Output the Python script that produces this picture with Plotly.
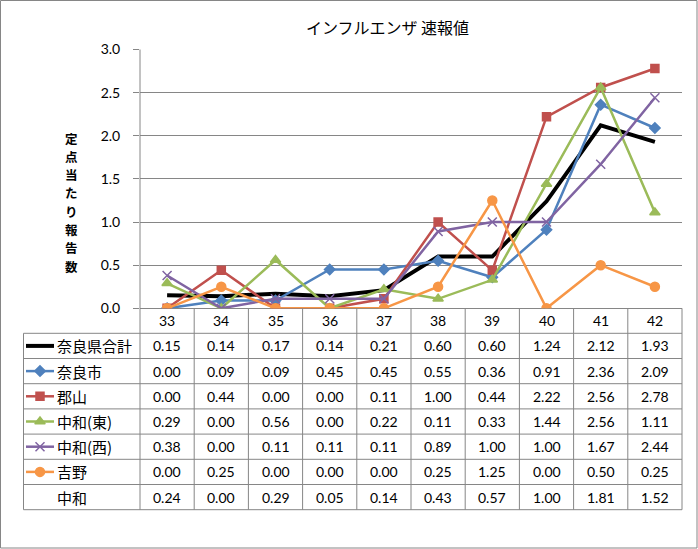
import plotly.graph_objects as go

# 週
weeks = ['33', '34', '35', '36', '37', '38', '39', '40', '41', '42']

# 系列名と値
series_names = ['奈良県合計', '奈良市', '郡山', '中和(東)', '中和(西)', '吉野', '中和']
total = [0.15, 0.14, 0.17, 0.14, 0.21, 0.60, 0.60, 1.24, 2.12, 1.93]
nara = [0.00, 0.09, 0.09, 0.45, 0.45, 0.55, 0.36, 0.91, 2.36, 2.09]
koriyama = [0.00, 0.44, 0.00, 0.00, 0.11, 1.00, 0.44, 2.22, 2.56, 2.78]
chuwa_east = [0.29, 0.00, 0.56, 0.00, 0.22, 0.11, 0.33, 1.44, 2.56, 1.11]
chuwa_west = [0.38, 0.00, 0.11, 0.11, 0.11, 0.89, 1.00, 1.00, 1.67, 2.44]
yoshino = [0.00, 0.25, 0.00, 0.00, 0.00, 0.25, 1.25, 0.00, 0.50, 0.25]
chuwa = [0.24, 0.00, 0.29, 0.05, 0.14, 0.43, 0.57, 1.00, 1.81, 1.52]

all_values = [total, nara, koriyama, chuwa_east, chuwa_west, yoshino, chuwa]

# 縦軸タイトル
y_title = '定点当たり報告数'

# スタイル (中和 は表のみ)
styles = [
    dict(color='black', width=4, symbol=None, size=0),
    dict(color='#4F81BD', width=2.5, symbol='diamond', size=8),
    dict(color='#C0504D', width=2.5, symbol='square', size=8),
    dict(color='#9BBB59', width=2.5, symbol='triangle-up', size=9),
    dict(color='#8064A2', width=2.5, symbol='x-thin-open', size=9),
    dict(color='#F79646', width=2.5, symbol='circle', size=9),
    None,
]

W, H = 698, 549
GRID = '#868686'
NUM_FONT = 'Lato'
JP_FONT = 'Noto Sans CJK JP'

# 描画領域 (ピクセル)
px_left, px_right = 140, 682
px_top, px_zero = 49.5, 308.3
row_h = 25.2
table_left = 23.5
table_top = 333.3
col_w = (px_right - px_left) / len(weeks)

fig = go.Figure()

# 折れ線
for name, vals, st in zip(series_names, all_values, styles):
    if st is None:
        continue
    mode = 'lines' if st['symbol'] is None else 'lines+markers'
    fig.add_trace(go.Scatter(
        x=weeks, y=vals, mode=mode, name=name,
        line=dict(color=st['color'], width=st['width']),
        marker=dict(symbol=st['symbol'] or 'circle', size=st['size'],
                    color=st['color'], line=dict(color=st['color'], width=1.5)),
        showlegend=False, xaxis='x', yaxis='y',
    ))

shapes = []
annotations = []


def hline(x0, x1, y):
    shapes.append(dict(type='line', xref='x2', yref='y2', x0=x0, x1=x1, y0=y, y1=y,
                       line=dict(color=GRID, width=1)))


def vline(x, y0, y1):
    shapes.append(dict(type='line', xref='x2', yref='y2', x0=x, x1=x, y0=y0, y1=y1,
                       line=dict(color=GRID, width=1)))


table_bottom = table_top + row_h * len(series_names)

# 表の罫線
for i in range(len(series_names) + 1):
    hline(table_left, px_right, table_top + row_h * i)
vline(table_left, table_top, table_bottom)
vline(px_left, px_top, table_bottom)
for k in range(1, len(weeks) + 1):
    vline(px_left + col_w * k, px_zero, table_bottom)

# 見出し行 (週)
for k, w in enumerate(weeks):
    annotations.append(dict(xref='x2', yref='y2', x=px_left + col_w * (k + 0.5),
                            y=(px_zero + table_top) / 2, text=w, showarrow=False,
                            font=dict(family=NUM_FONT, size=14, color='black')))

# 表の値と凡例
for i, (name, vals, st) in enumerate(zip(series_names, all_values, styles)):
    cy = table_top + row_h * (i + 0.5)
    annotations.append(dict(xref='x2', yref='y2', x=55, y=cy, text=name, showarrow=False,
                            xanchor='left', font=dict(family=JP_FONT, size=15, color='black')))
    for k, v in enumerate(vals):
        annotations.append(dict(xref='x2', yref='y2', x=px_left + col_w * (k + 0.5), y=cy,
                                text=f'{v:.2f}', showarrow=False,
                                font=dict(family=NUM_FONT, size=14, color='black')))
    if st is None:
        continue
    fig.add_trace(go.Scatter(
        x=[26, 54], y=[cy, cy], mode='lines', xaxis='x2', yaxis='y2',
        line=dict(color=st['color'], width=st['width']), showlegend=False, hoverinfo='skip'))
    if st['symbol'] is not None:
        fig.add_trace(go.Scatter(
            x=[40], y=[cy], mode='markers', xaxis='x2', yaxis='y2',
            marker=dict(symbol=st['symbol'], size=st['size'], color=st['color'],
                        line=dict(color=st['color'], width=1.5)),
            showlegend=False, hoverinfo='skip'))

# タイトル
annotations.append(dict(xref='x2', yref='y2', x=387, y=27, text='インフルエンザ 速報値',
                        showarrow=False, font=dict(family=JP_FONT, size=16, color='black')))

# 縦軸タイトル (縦書き、1文字ずつ)
for j, ch in enumerate(y_title):
    annotations.append(dict(xref='x2', yref='y2', x=71, y=138 + 18.3 * j,
                            text='<b>' + ch + '</b>', showarrow=False,
                            font=dict(family=JP_FONT, size=12.5, color='black')))

# 外枠
shapes.append(dict(type='rect', xref='x2', yref='y2', x0=0.5, y0=0.5, x1=W - 1, y1=H - 1,
                   line=dict(color=GRID, width=1)))

fig.update_layout(
    width=W, height=H,
    margin=dict(l=0, r=0, t=0, b=0),
    paper_bgcolor='white',
    plot_bgcolor='rgba(0,0,0,0)',
    shapes=shapes,
    annotations=annotations,
    xaxis=dict(
        domain=[px_left / W, px_right / W],
        type='category', range=[-0.5, len(weeks) - 0.5],
        showticklabels=False, ticks='', showgrid=False, zeroline=False,
        showline=False, fixedrange=True,
    ),
    yaxis=dict(
        domain=[1 - px_zero / H, 1 - px_top / H],
        range=[0, 3], dtick=0.5, tickformat='.1f',
        ticks='outside', ticklen=6, tickcolor=GRID,
        showgrid=True, gridcolor=GRID, gridwidth=1,
        zeroline=True, zerolinecolor=GRID, zerolinewidth=1,
        showline=False, ticklabelstandoff=10,
        tickfont=dict(family=NUM_FONT, size=14, color='black'),
        automargin=False,
    ),
    xaxis2=dict(domain=[0, 1], range=[0, W], visible=False, anchor='y2', fixedrange=True),
    yaxis2=dict(domain=[0, 1], range=[H, 0], visible=False, anchor='x2', fixedrange=True),
)

# ページの余白をなくす
fig.write_html('out.html', config={'displayModeBar': False},
               post_script="document.body.style.margin='0';")
